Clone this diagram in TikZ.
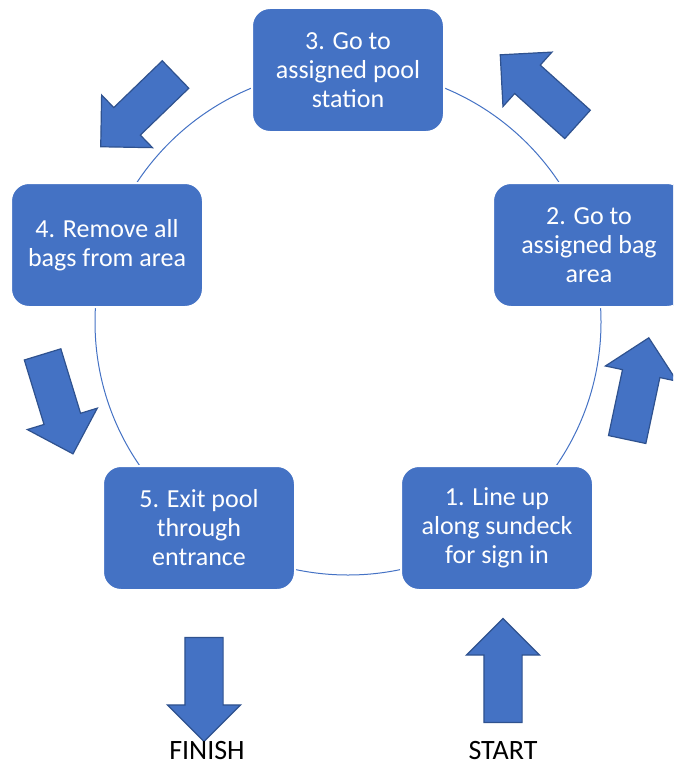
\documentclass[tikz,border=0pt]{standalone}
\usepackage{fontspec}
\setmainfont{Carlito}
\usepackage{tikz}
\usetikzlibrary{shapes.arrows}
\definecolor{poolblue}{HTML}{4472C4}
\definecolor{pooledge}{HTML}{2F528F}
\tikzset{stepbox/.style={rectangle, rounded corners=18pt, fill=poolblue,
  draw=white, line width=2pt, minimum width=192pt, minimum height=124pt,
  text=white, align=center, font=\fontsize{26}{29}\selectfont}}
\tikzset{blockarrow/.style={single arrow, fill=poolblue, draw=pooledge,
  line width=1.2pt, inner sep=0pt, inner ysep=18.5pt,
  single arrow head extend=17.5pt, minimum height=104pt}}
\tikzset{endlabel/.style={anchor=base, inner sep=0pt, font=\fontsize{28}{34}\selectfont}}

\begin{document}
\begin{tikzpicture}[x=1pt, y=-1pt]

\useasboundingbox (0,0) rectangle (673,765);
\clip (0,0) rectangle (673,765);

% the cycle behind the steps
\draw[poolblue, line width=1pt] (348,322) circle [radius=253pt];

\node[stepbox] (line) at (497,528) {1. Line up\\along sundeck\\for sign in};
\node[stepbox] (bag) at (589,245) {2. Go to\\assigned bag\\area};
\node[stepbox] (station) at (348,70) {3. Go to\\assigned pool\\station};
\node[stepbox] (remove) at (107,245) {4. Remove all\\bags from area};
\node[stepbox] (exit) at (199,528) {5. Exit pool\\through\\entrance};

\node[blockarrow, rotate=78] (up) at (636,398) {};
\node[blockarrow, rotate=138] (upleft) at (546,96) {};
\node[blockarrow, rotate=224] (downleft) at (145,104) {};
\node[blockarrow, rotate=287] (down) at (55,395) {};
\node[blockarrow, rotate=270] (out) at (204,680) {};
\node[blockarrow, rotate=90] (in) at (503,680) {};

\node[endlabel] (finish) at (207,759) {FINISH};
\node[endlabel] (start) at (503,759) {START};

\end{tikzpicture}
\end{document}
